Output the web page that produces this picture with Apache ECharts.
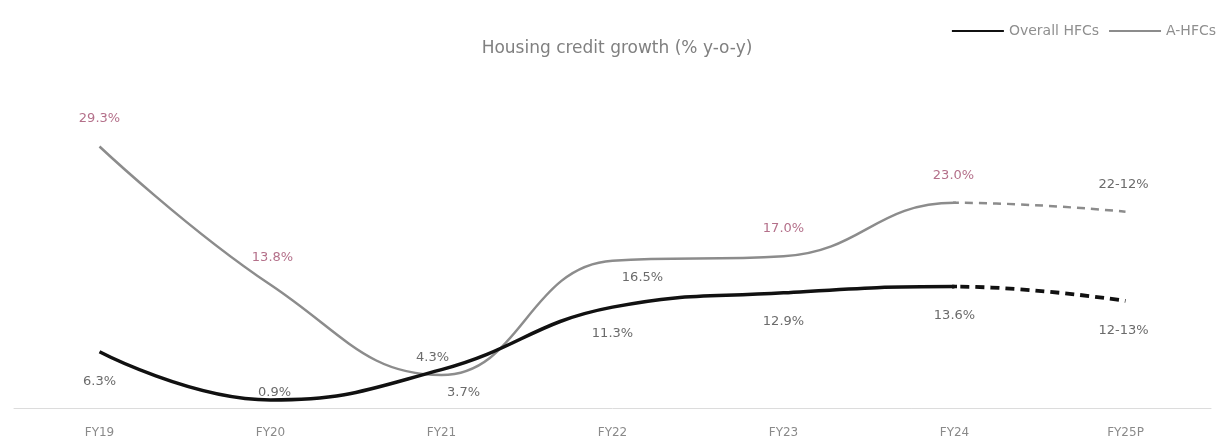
<!DOCTYPE html>
<html>
<head>
<meta charset="utf-8">
<script src="https://cdn.jsdelivr.net/npm/echarts@6/dist/echarts.min.js"></script>
<style>
  html, body { margin: 0; padding: 0; background: #fff; }
  #chart { width: 1225px; height: 446px; }
</style>
</head>
<body>
<div id="chart"></div>
<script>
// Housing credit growth, % y-o-y
const categories = ['FY19', 'FY20', 'FY21', 'FY22', 'FY23', 'FY24', 'FY25P'];
const overallHFCs = [6.3, 0.9, 4.3, 11.3, 12.9, 13.6, 12.0];
const aHFCs = [29.3, 13.8, 3.7, 16.5, 17.0, 23.0, 22.0];
const overallLabels = ['6.3%', '0.9%', '4.3%', '11.3%', '12.9%', '13.6%', '12-13%'];
const aLabels = ['29.3%', '13.8%', '3.7%', '16.5%', '17.0%', '23.0%', '22-12%'];
// label side per point: 1 = above, -1 = below
const overallSide = [-1, 1, 1, -1, -1, -1, -1];
const aSide = [1, 1, -1, -1, 1, 1, 1];
const lastActual = 5; // FY24 is the last actual year; FY25P is projected

const FONT = '"DejaVu Sans", "Open Sans", sans-serif';
const DARK_LABEL = '#6b6b6b';
const PINK_LABEL = '#b4708a';
const aLabelColor = [PINK_LABEL, PINK_LABEL, DARK_LABEL, DARK_LABEL, PINK_LABEL, PINK_LABEL, DARK_LABEL];

// layout of the plot area
const W = 1225, SIDE = 14, TOP = 51, BOTTOM = 38;
const band = (W - 2 * SIDE) / categories.length;
const splitX = SIDE + (lastActual + 0.5) * band; // x of the last actual year

function labelledData(vals, texts, sides, colors, dist, dx) {
  return vals.map((v, i) => ({
    value: v,
    label: {
      show: true,
      formatter: texts[i],
      position: sides[i] > 0 ? 'top' : 'bottom',
      distance: dist[i],
      offset: [dx[i], 0],
      color: colors[i],
      fontSize: 13,
      fontFamily: FONT
    }
  }));
}

const overallData = labelledData(
  overallHFCs, overallLabels, overallSide,
  overallHFCs.map(() => DARK_LABEL),
  [23, 0, 5, 19, 22, 22, 23],
  [0, 4, -9, 0, 0, 0, -2]
);
const aData = labelledData(
  aHFCs, aLabels, aSide, aLabelColor,
  [21, 20, 11, 10, 21, 20, 20],
  [0, 2, 22, 30, 0, -1, -2]
);

const points = vals => vals.map((v, i) => [i, v]);

// invisible point series that only carries the value labels
function labelSeries(name, data) {
  return {
    name: name,
    type: 'line',
    data: data,
    symbol: 'circle',
    symbolSize: 1,
    showSymbol: true,
    lineStyle: { width: 0, color: 'rgba(0,0,0,0)' },
    itemStyle: { color: 'rgba(0,0,0,0)' },
    emphasis: { disabled: true },
    z: 5
  };
}

// full smoothed curve, clipped either to the actual years (grid 1) or the projection (grid 2)
function curve(name, vals, gridIdx, color, width, dash, z) {
  return {
    name: name,
    type: 'line',
    xAxisIndex: gridIdx,
    yAxisIndex: gridIdx,
    data: points(vals),
    smooth: 0.45,
    clip: true,
    symbol: 'none',
    lineStyle: { color: color, width: width, type: dash },
    itemStyle: { color: color },
    z: z
  };
}

const hiddenY = idx => ({ type: 'value', gridIndex: idx, min: 0, max: 40, show: false, splitLine: { show: false } });
const hiddenX = (idx, min, max) => ({ type: 'value', gridIndex: idx, min: min, max: max, show: false, splitLine: { show: false } });

const chart = echarts.init(document.getElementById('chart'), null, { renderer: 'canvas' });

chart.setOption({
  animation: false,
  backgroundColor: '#ffffff',
  textStyle: { fontFamily: FONT },
  title: {
    text: 'Housing credit growth (% y-o-y)',
    left: 612,
    textAlign: 'center',
    top: 35,
    textStyle: { fontFamily: FONT, fontSize: 17, fontWeight: 'normal', color: '#808080' }
  },
  legend: {
    right: 4,
    top: 19,
    itemWidth: 52,
    itemHeight: 10,
    itemGap: 10,
    icon: 'path://M0,4 L50,4 L50,6 L0,6 Z',
    textStyle: { fontFamily: FONT, fontSize: 14, color: '#8f8f8f' },
    data: [
      { name: 'Overall HFCs', itemStyle: { color: '#111111', opacity: 1 } },
      { name: 'A-HFCs', itemStyle: { color: '#8c8c8c', opacity: 1 } }
    ]
  },
  grid: [
    { left: SIDE, right: SIDE, top: TOP, bottom: BOTTOM },
    { left: SIDE, right: W - splitX, top: TOP, bottom: BOTTOM },
    { left: splitX, right: SIDE, top: TOP, bottom: BOTTOM }
  ],
  xAxis: [
    {
      type: 'category',
      gridIndex: 0,
      data: categories,
      boundaryGap: true,
      axisLine: { lineStyle: { color: '#dcdcdc', width: 1 } },
      axisTick: { show: false },
      axisLabel: { color: '#8a8a8a', fontSize: 12, margin: 19, fontFamily: FONT }
    },
    hiddenX(1, -0.5, lastActual),
    hiddenX(2, lastActual, categories.length - 0.5)
  ],
  yAxis: [hiddenY(0), hiddenY(1), hiddenY(2)],
  series: [
    curve('A-HFCs', aHFCs, 1, '#8c8c8c', 2.5, 'solid', 2),
    curve('A-HFCs', aHFCs, 2, '#8c8c8c', 2.5, [8, 6], 2),
    curve('Overall HFCs', overallHFCs, 1, '#111111', 3.5, 'solid', 3),
    curve('Overall HFCs', overallHFCs, 2, '#111111', 3.8, [9, 6], 3),
    labelSeries('A-HFCs values', aData),
    labelSeries('Overall HFCs values', overallData)
  ]
});
</script>
</body>
</html>
